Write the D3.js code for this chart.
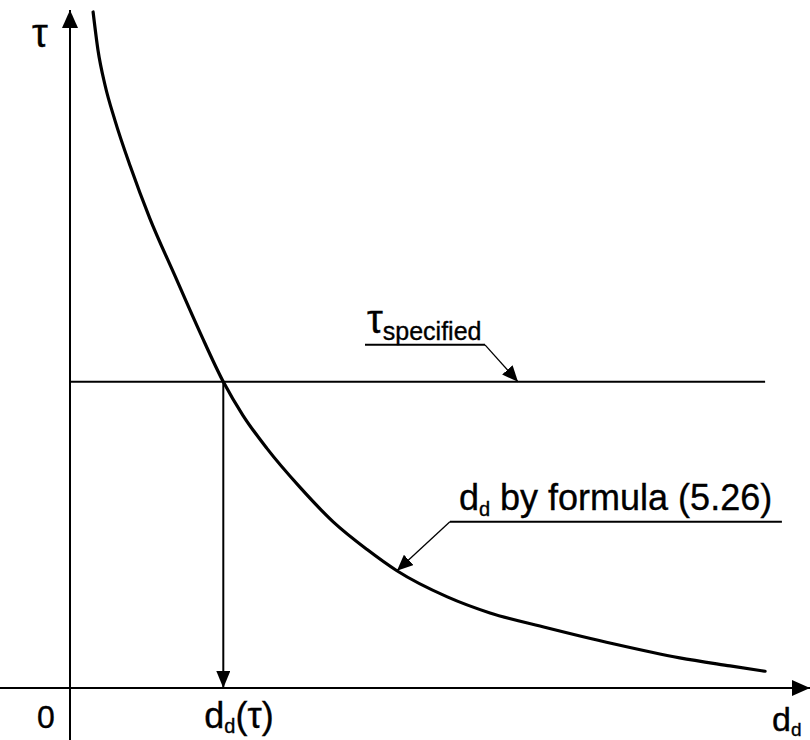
<!DOCTYPE html>
<html>
<head>
<meta charset="utf-8">
<script src="https://cdn.jsdelivr.net/npm/d3@7"></script>
<style>
  html, body { margin: 0; padding: 0; background: #ffffff; }
  svg { display: block; }
  text { font-family: "Liberation Sans", Arial, sans-serif; fill: #000; stroke: #000; stroke-width: 0.35px; }
</style>
</head>
<body>
<svg id="chart" width="810" height="740"></svg>
<script>
// Curve d_d(τ): diameter against the allowed time, in relative units
const dValues   = [0.33, 0.40, 0.50, 0.64, 0.86, 1.14, 1.50, 1.86, 2.19, 2.47, 2.81, 3.29, 3.76, 4.24, 4.67, 5.39, 6.00, 6.81, 7.76, 8.71, 9.43, 9.93];
const tauValues = [10.09, 9.52, 9.00, 8.48, 7.79, 7.01, 6.15, 5.30, 4.57, 4.07, 3.58, 2.99, 2.48, 2.07, 1.75, 1.36, 1.12, 0.90, 0.66, 0.45, 0.33, 0.25];

// Specified time level and the diameter it gives on the curve
const tauSpecified = 4.57;
const dAtTau = 2.19;
const dLineEnd = 9.93;

// Annotation anchors (data units) for the leader arrows
const specifiedArrowD = 6.40;
const formulaArrowIndex = 14;

const width = 810, height = 740;
const svg = d3.select("#chart");

const x = d3.scaleLinear().domain([0, 10]).range([70, 770]);
const y = d3.scaleLinear().domain([0, 10]).range([688, 18]);

const defs = svg.append("defs");
function marker(id, len, half) {
  defs.append("marker")
    .attr("id", id)
    .attr("viewBox", `0 ${-half} ${len} ${2 * half}`)
    .attr("refX", len).attr("refY", 0)
    .attr("markerUnits", "userSpaceOnUse")
    .attr("markerWidth", len).attr("markerHeight", 2 * half)
    .attr("orient", "auto")
    .append("path")
    .attr("d", `M0,${-half}L${len},0L0,${half}Z`)
    .attr("fill", "#000");
}
marker("axisHead", 18, 8);
marker("dropHead", 17, 7);
marker("leaderHead", 16, 7);

// Axes
svg.append("line")
  .attr("x1", 0).attr("x2", width)
  .attr("y1", y(0)).attr("y2", y(0))
  .attr("stroke", "#000").attr("stroke-width", 2)
  .attr("marker-end", "url(#axisHead)");
svg.append("line")
  .attr("x1", x(0)).attr("x2", x(0))
  .attr("y1", height).attr("y2", 10)
  .attr("stroke", "#000").attr("stroke-width", 2)
  .attr("marker-end", "url(#axisHead)");

// Specified level
svg.append("line")
  .attr("x1", x(0)).attr("x2", x(dLineEnd))
  .attr("y1", y(tauSpecified)).attr("y2", y(tauSpecified))
  .attr("stroke", "#000").attr("stroke-width", 2);

// Drop from the intersection to the d axis
svg.append("line")
  .attr("x1", x(dAtTau)).attr("x2", x(dAtTau))
  .attr("y1", y(tauSpecified)).attr("y2", y(0))
  .attr("stroke", "#000").attr("stroke-width", 2)
  .attr("marker-end", "url(#dropHead)");

// The curve
const pts = dValues.map((d, i) => [d, tauValues[i]]);
svg.append("path")
  .datum(pts)
  .attr("fill", "none")
  .attr("stroke", "#000")
  .attr("stroke-width", 3.2)
  .attr("stroke-linecap", "round")
  .attr("d", d3.line().x(p => x(p[0])).y(p => y(p[1])).curve(d3.curveMonotoneX));

// Leader lines: an underline under the label, then a slanted arrow to the mark
function leader(tip, elbow, underlineEnd) {
  svg.append("line")
    .attr("x1", underlineEnd).attr("x2", elbow[0])
    .attr("y1", elbow[1]).attr("y2", elbow[1])
    .attr("stroke", "#000").attr("stroke-width", 2);
  svg.append("line")
    .attr("x1", elbow[0]).attr("y1", elbow[1])
    .attr("x2", tip[0]).attr("y2", tip[1])
    .attr("stroke", "#000").attr("stroke-width", 1.3)
    .attr("marker-end", "url(#leaderHead)");
}

// τ specified
const sTip = [x(specifiedArrowD), y(tauSpecified)];
const sElbow = [sTip[0] - 33, sTip[1] - 37];
leader(sTip, sElbow, sElbow[0] - 120);
const sLabel = svg.append("text")
  .attr("x", sElbow[0] - 118).attr("y", sElbow[1] - 12);
sLabel.append("tspan").attr("font-size", 40).text("τ");
sLabel.append("tspan").attr("font-size", 25).attr("dy", 7).text("specified");

// d_d by formula (5.26)
const fTip = [x(dValues[formulaArrowIndex]), y(tauValues[formulaArrowIndex])];
const fElbow = [fTip[0] + 53, fTip[1] - 49];
leader(fTip, fElbow, fElbow[0] + 332);
const fLabel = svg.append("text")
  .attr("x", fElbow[0] + 9).attr("y", fElbow[1] - 12);
fLabel.append("tspan").attr("font-size", 36).text("d");
fLabel.append("tspan").attr("font-size", 20).attr("dy", 6).text("d");
fLabel.append("tspan").attr("font-size", 36).attr("dy", -6).text(" by formula (5.26)");

// Axis labels
svg.append("text").attr("x", 32).attr("y", 47).attr("font-size", 40).text("τ");
svg.append("text").attr("x", 37).attr("y", 728).attr("font-size", 32).text("0");

const dtLabel = svg.append("text").attr("x", x(dAtTau) - 19).attr("y", 728);
dtLabel.append("tspan").attr("font-size", 36).text("d");
dtLabel.append("tspan").attr("font-size", 20).attr("dy", 5).text("d");
dtLabel.append("tspan").attr("font-size", 36).attr("dy", -5).text("(τ)");

const dLabel = svg.append("text").attr("x", 772).attr("y", 731);
dLabel.append("tspan").attr("font-size", 34).text("d");
dLabel.append("tspan").attr("font-size", 19).attr("dy", 5).text("d");
</script>
</body>
</html>
